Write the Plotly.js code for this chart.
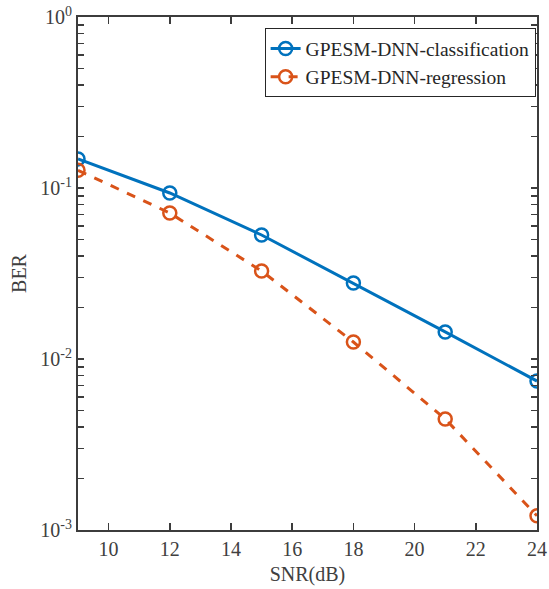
<!DOCTYPE html>
<html><head><meta charset="utf-8">
<script src="https://cdn.plot.ly/plotly-3.0.1.min.js"></script>
<style>html,body{margin:0;padding:0;background:#fff}#p{width:549px;height:589px}</style>
</head><body><div id="p"></div>
<script>
const snr = [9, 12, 15, 18, 21, 24];
const berClassification = [0.148, 0.0935, 0.0531, 0.0278, 0.0144, 0.00743];
const berRegression = [0.127, 0.0714, 0.0327, 0.01257, 0.00446, 0.00121];
const seriesNames = ['GPESM-DNN-classification', 'GPESM-DNN-regression'];
const decades = [-3, -2, -1, 0];
const decadeLabels = ['10<sup>-3</sup>', '10<sup>-2</sup>', '10<sup>-1</sup>', '10<sup>0</sup>'];
const mantissas = [1, 2, 3, 4, 5, 6, 7, 8, 9];
const xTickStart = 10, xTickStep = 2;

const yTickVals = [], yTickText = [];
decades.forEach((d, i) => {
  if (d === 0) { yTickVals.push(1); yTickText.push(decadeLabels[i]); return; }
  mantissas.forEach(m => {
    yTickVals.push(m * Math.pow(10, d));
    yTickText.push(m === 1 ? decadeLabels[i] : '');
  });
});

const fam = "Liberation Serif";
const axisCol = '#3c3c3c';
const traces = [
  {x: snr, y: berClassification, name: seriesNames[0], mode: 'lines+markers',
   line: {color: '#0072BD', width: 3},
   marker: {symbol: 'circle-open', size: 13, color: '#0072BD', line: {width: 2.5, color: '#0072BD'}}},
  {x: snr, y: berRegression, name: seriesNames[1], mode: 'lines+markers',
   line: {color: '#D95319', width: 3, dash: 'dash'},
   marker: {symbol: 'circle-open', size: 13, color: '#D95319', line: {width: 2.5, color: '#D95319'}}}
];
const layout = {
  width: 549, height: 589,
  margin: {l: 78, r: 12, t: 17, b: 59},
  paper_bgcolor: '#fff', plot_bgcolor: '#fff',
  font: {family: fam, size: 19, color: '#404040'},
  showlegend: true,
  legend: {x: 0.997, y: 0.978, xanchor: 'right', yanchor: 'top',
    bgcolor: '#fff', bordercolor: '#262626', borderwidth: 1,
    font: {family: fam, size: 19.5, color: '#262626'}, tracegroupgap: 0},
  xaxis: {range: [9, 24], tickmode: 'linear', tick0: xTickStart, dtick: xTickStep,
    ticks: 'inside', ticklen: 7,
    showline: true, linecolor: axisCol, linewidth: 2, mirror: 'allticks',
    tickcolor: axisCol, tickwidth: 1.5, showgrid: false, zeroline: false,
    tickfont: {family: fam, size: 20, color: '#404040'},
    title: {text: 'SNR(dB)', font: {family: fam, size: 20, color: '#404040'}, standoff: 8}},
  yaxis: {type: 'log', range: [-3, 0], tickmode: 'array', tickvals: yTickVals, ticktext: yTickText,
    ticks: 'inside', ticklen: 6, tickcolor: axisCol, tickwidth: 1.5,
    showline: true, linecolor: axisCol, linewidth: 2, mirror: 'allticks',
    showgrid: false, zeroline: false,
    tickfont: {family: fam, size: 20, color: '#404040'},
    title: {text: 'BER', font: {family: fam, size: 20, color: '#404040'}, standoff: 8}}
};
Plotly.newPlot('p', traces, layout, {displayModeBar: false, staticPlot: true});
</script></body></html>
